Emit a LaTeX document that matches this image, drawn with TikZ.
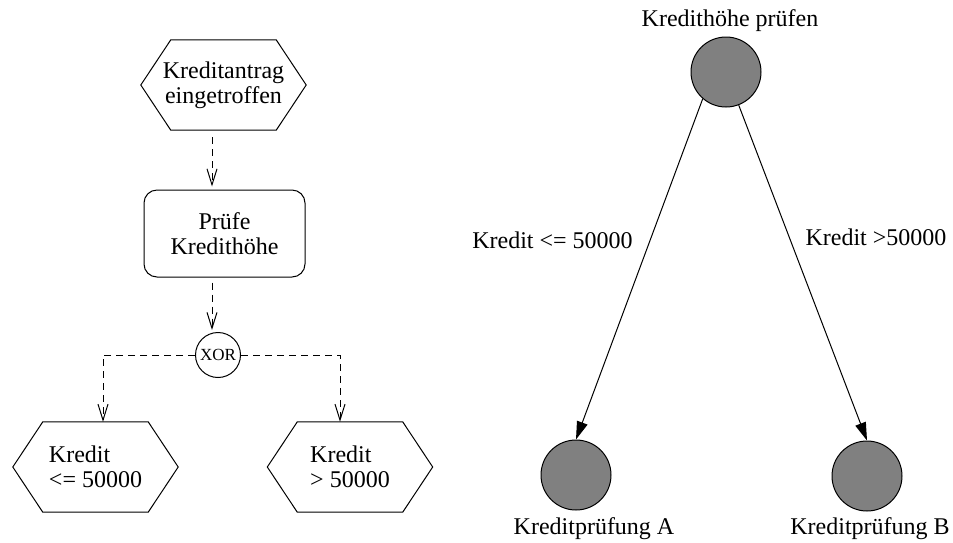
\documentclass[tikz,border=0pt]{standalone}
\usepackage{fontspec}
\setmainfont{Liberation Serif}
\usetikzlibrary{arrows.meta}
\definecolor{eventgray}{RGB}{128,128,128}
\begin{document}
\begin{tikzpicture}[x=1pt,y=-1pt,
  every node/.style={font=\fontsize{24}{25}\selectfont},
  hexbox/.style={minimum width=165pt,minimum height=90pt,inner sep=0pt,align=left},
  funcbox/.style={draw,rounded corners=13pt,minimum width=161pt,minimum height=87pt,align=center,line width=1pt},
  conn/.style={circle,draw,minimum size=45pt,inner sep=0pt,font=\fontsize{17}{18}\selectfont,line width=1pt},
  flow/.style={line width=1pt,dash pattern=on 7pt off 5pt,-{Straight Barb[length=16pt,width=10pt]}},
  state/.style={circle,draw,fill=eventgray,minimum size=70pt,inner sep=0pt,line width=1pt},
  trans/.style={line width=1pt,-{Triangle[length=18pt,width=11pt]}},
  caption/.style={anchor=base,inner sep=0pt},
  hexline/.style={line width=1pt,line join=miter}
]
\useasboundingbox (0,0) rectangle (953,542);

% event-driven process chain
\node[hexbox,align=center] (start) at (223.5,85) {Kreditantrag\\eingetroffen};
\node[funcbox] (check) at (224.5,233.5) {Prüfe\\Kredithöhe};
\node[conn] (xor) at (218,355) {XOR};
\node[hexbox] (low) at (95.5,467) {Kredit\\<= 50000};
\node[hexbox] (high) at (350,467) {Kredit\\> 50000};

% hexagonal outlines of the events
\foreach \h in {start,low,high}
  \draw[hexline] (\h.west) -- ([xshift=30pt]\h.north west) -- ([xshift=-30pt]\h.north east)
    -- (\h.east) -- ([xshift=-30pt]\h.south east) -- ([xshift=30pt]\h.south west) -- cycle;

\draw[flow,shorten <=7pt,shorten >=3pt] ([xshift=-11.5pt]start.south) -- ([xshift=-11.5pt]start.south |- check.north);
\draw[flow,shorten <=5pt,shorten >=2pt] ([xshift=-12.5pt]check.south) -- ([xshift=-12.5pt]check.south |- xor.north);
\draw[flow] (xor.west) -| ([xshift=7.5pt]low.north);
\draw[flow] (xor.east) -| ([xshift=-10pt]high.north);

% state transition view
\node[state] (top) at (726,72) {};
\node[state] (a) at (576,475) {};
\node[state] (b) at (867,476) {};
\node[caption] (topcap) at (730,26) {Kredithöhe prüfen};
\node[caption] (acap) at (594,534) {Kreditprüfung A};
\node[caption] (bcap) at (870,534) {Kreditprüfung B};

\draw[trans] (top.229) -- (a.north);
\draw[trans] (top.291) -- (b.north);
\node[caption] (lowlbl) at (552.5,248) {Kredit <= 50000};
\node[caption] (highlbl) at (876,245) {Kredit >50000};
\end{tikzpicture}
\end{document}
